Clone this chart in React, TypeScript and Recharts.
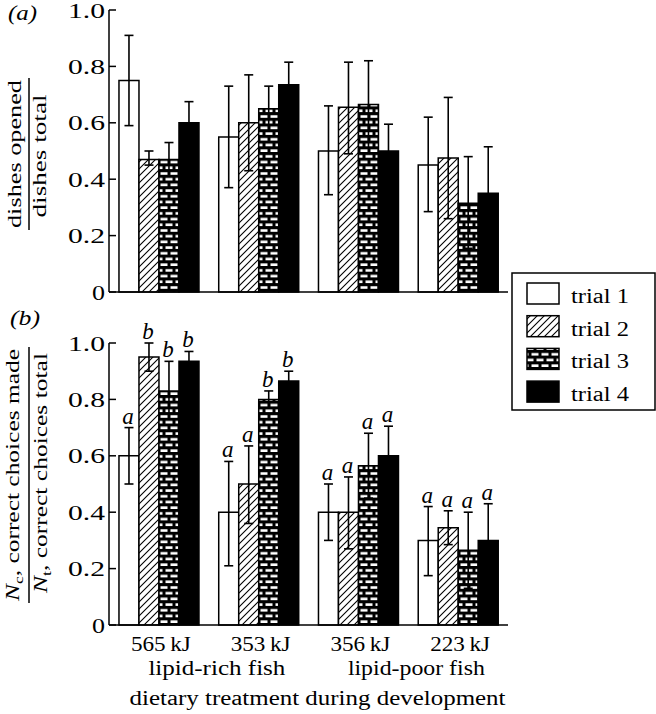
import React from 'react';
import { BarChart, Bar, XAxis, YAxis, ErrorBar, LabelList } from 'recharts';

const SERIF = '"Liberation Serif", "Times New Roman", Times, serif';

const diets = ['565\u2009kJ', '353\u2009kJ', '356\u2009kJ', '223\u2009kJ'];
const fishGroups = ['lipid-rich fish', 'lipid-poor fish'];
const trialNames = ['trial 1', 'trial 2', 'trial 3', 'trial 4'];
const yTicks = [0, 0.2, 0.4, 0.6, 0.8, 1.0];
const yTickLabels = ['0', '0.2', '0.4', '0.6', '0.8', '1.0'];

// (a) dishes opened / dishes total
const openedTrial1 = [0.75, 0.55, 0.5, 0.45];
const openedTrial2 = [0.47, 0.6, 0.655, 0.475];
const openedTrial3 = [0.47, 0.65, 0.665, 0.315];
const openedTrial4 = [0.6, 0.735, 0.5, 0.35];
const openedLow1 = [0.59, 0.37, 0.345, 0.285];
const openedLow2 = [0.45, 0.43, 0.49, 0.26];
const openedLow3 = [0.41, 0.57, 0.51, 0.155];
const openedLow4 = [0.525, 0.655, 0.405, 0.185];
const openedHigh1 = [0.91, 0.73, 0.66, 0.62];
const openedHigh2 = [0.5, 0.77, 0.815, 0.69];
const openedHigh3 = [0.53, 0.73, 0.82, 0.48];
const openedHigh4 = [0.675, 0.815, 0.595, 0.515];

// (b) correct choices made / correct choices total
const choiceTrial1 = [0.6, 0.4, 0.4, 0.3];
const choiceTrial2 = [0.95, 0.5, 0.4, 0.345];
const choiceTrial3 = [0.83, 0.8, 0.565, 0.265];
const choiceTrial4 = [0.935, 0.865, 0.6, 0.3];
const choiceLow1 = [0.5, 0.21, 0.3, 0.175];
const choiceLow2 = [0.9, 0.36, 0.27, 0.285];
const choiceLow3 = [0.73, 0.77, 0.45, 0.13];
const choiceLow4 = [0.9, 0.83, 0.49, 0.17];
const choiceHigh1 = [0.7, 0.58, 0.5, 0.42];
const choiceHigh2 = [1.0, 0.635, 0.525, 0.405];
const choiceHigh3 = [0.935, 0.83, 0.68, 0.4];
const choiceHigh4 = [0.97, 0.9, 0.705, 0.43];
const letters1 = ['a', 'a', 'a', 'a'];
const letters2 = ['b', 'a', 'a', 'a'];
const letters3 = ['b', 'b', 'a', 'a'];
const letters4 = ['b', 'b', 'a', 'a'];

const openedMeans = [openedTrial1, openedTrial2, openedTrial3, openedTrial4];
const openedLows = [openedLow1, openedLow2, openedLow3, openedLow4];
const openedHighs = [openedHigh1, openedHigh2, openedHigh3, openedHigh4];
const choiceMeans = [choiceTrial1, choiceTrial2, choiceTrial3, choiceTrial4];
const choiceLows = [choiceLow1, choiceLow2, choiceLow3, choiceLow4];
const choiceHighs = [choiceHigh1, choiceHigh2, choiceHigh3, choiceHigh4];
const choiceLetters = [letters1, letters2, letters3, letters4];

const fills = ['#fff', 'url(#hatch)', 'url(#brick)', '#000'];

const buildRows = (means: number[][], lows: number[][], highs: number[][], lets?: string[][]) =>
  diets.map((diet, i) => {
    const row: any = { diet };
    means.forEach((m, t) => {
      row[`t${t}`] = m[i];
      row[`e${t}`] = [m[i] - lows[t][i], highs[t][i] - m[i]];
      if (lets) row[`l${t}`] = lets[t][i];
    });
    return row;
  });

const openedData = buildRows(openedMeans, openedLows, openedHighs);
const choiceData = buildRows(choiceMeans, choiceLows, choiceHighs, choiceLetters);

// text squeezed/stretched to the width it has in the printed figure
const Txt = ({ x, y, w, size = 20, anchor = 'start', italic = false, children }: any) => (
  <text
    x={x}
    y={y}
    textAnchor={anchor}
    textLength={w}
    lengthAdjust="spacingAndGlyphs"
    fontFamily={SERIF}
    fontSize={size}
    fontStyle={italic ? 'italic' : 'normal'}
    fill="#000"
  >
    {children}
  </text>
);

const YTick = (props: any) => {
  const { x, y, index } = props;
  const label = yTickLabels[index];
  return (
    <g>
      <line x1={x + 4} x2={x + 11} y1={y} y2={y} stroke="#000" strokeWidth={1.5} />
      <Txt x={x} y={y + 7.5} w={label.length === 1 ? 13 : 37} size={21} anchor="end">
        {label}
      </Txt>
    </g>
  );
};

const DietTick = (props: any) => {
  const { x, y, payload, index } = props;
  return (
    <g>
      <Txt x={x + 2} y={y + 26} w={60} size={20} anchor="middle">
        {payload.value}
      </Txt>
      {index % 2 === 0 && (
        <Txt x={x + 58} y={y + 50} w={137} size={20} anchor="middle">
          {fishGroups[index / 2]}
        </Txt>
      )}
    </g>
  );
};

const LabelA = (props: any) => {
  const vb = props.viewBox;
  const cy = vb.y + vb.height / 2 + 3;
  return (
    <g fontFamily={SERIF} fontSize={19} fill="#000">
      <Txt x={8} y={vb.y + 10} w={29} size={20} italic>
        (a)
      </Txt>
      <g transform={`translate(29, ${cy}) rotate(-90)`}>
        <text x={0} y={-8} textAnchor="middle" textLength={148} lengthAdjust="spacingAndGlyphs">
          dishes opened
        </text>
        <line x1={-76} x2={76} y1={0} y2={0} stroke="#000" strokeWidth={1.5} />
        <text x={-2} y={17} textAnchor="middle" textLength={123} lengthAdjust="spacingAndGlyphs">
          dishes total
        </text>
      </g>
    </g>
  );
};

const LabelB = (props: any) => {
  const vb = props.viewBox;
  const cy = vb.y + vb.height / 2 - 9;
  return (
    <g fontFamily={SERIF} fontSize={19} fill="#000">
      <Txt x={10} y={vb.y - 18} w={30} size={20} italic>
        (b)
      </Txt>
      <g transform={`translate(29, ${cy}) rotate(-90)`}>
        <text x={0} y={-10} textAnchor="middle" textLength={252} lengthAdjust="spacingAndGlyphs">
          <tspan fontStyle="italic">N</tspan>
          <tspan fontSize={13} dy={4}>c</tspan>
          <tspan dy={-4}>, correct choices made</tspan>
        </text>
        <line x1={-128} x2={128} y1={0} y2={0} stroke="#000" strokeWidth={1.5} />
        <text x={2} y={18} textAnchor="middle" textLength={240} lengthAdjust="spacingAndGlyphs">
          <tspan fontStyle="italic">N</tspan>
          <tspan fontSize={13} dy={4}>t</tspan>
          <tspan dy={-4}>, correct choices total</tspan>
        </text>
      </g>
    </g>
  );
};

const XTitle = (props: any) => {
  const vb = props.viewBox;
  return (
    <Txt x={vb.x + vb.width / 2 + 9} y={vb.y + 80} w={376} size={20} anchor="middle">
      dietary treatment during development
    </Txt>
  );
};

// letter sits just above the top of the error bar
const makeLetter = (t: number) => (props: any) => {
  const vb = props.viewBox || props;
  const i = props.index;
  if (vb == null || i == null) return null;
  const mean = choiceMeans[t][i];
  const bottom = vb.y + vb.height;
  const top = bottom - (vb.height * choiceHighs[t][i]) / mean;
  return (
    <text
      x={vb.x + vb.width / 2 - 1}
      y={top - 4}
      textAnchor="middle"
      fontFamily={SERIF}
      fontStyle="italic"
      fontSize={23}
      fill="#000"
    >
      {props.value}
    </text>
  );
};

const Legend = () => (
  <svg width={146} height={140} style={{ position: 'absolute', left: 511, top: 272 }}>
    <rect x={1} y={1} width={143} height={137} fill="#fff" stroke="#000" strokeWidth={1.5} />
    {trialNames.map((name, t) => (
      <g key={name}>
        <rect x={16} y={11 + t * 32.7} width={32} height={21} fill={fills[t]} stroke="#000" strokeWidth={1.5} />
        <Txt x={60} y={31 + t * 32.7} w={58} size={20}>
          {name}
        </Txt>
      </g>
    ))}
  </svg>
);

const Patterns = () => (
  <svg width={0} height={0} style={{ position: 'absolute' }}>
    <defs>
      <pattern id="hatch" patternUnits="userSpaceOnUse" width={7} height={7}>
        <rect width={7} height={7} fill="#fff" />
        <path d="M0,7 L7,0 M-1,1 L1,-1 M6,8 L8,6" stroke="#000" strokeWidth={1.1} />
      </pattern>
      <pattern id="brick" patternUnits="userSpaceOnUse" width={10} height={11.4}>
        <rect width={10} height={11.4} fill="#000" />
        <rect x={0.5} y={1.2} width={7} height={2.6} fill="#fff" />
        <rect x={5.5} y={6.9} width={7} height={2.6} fill="#fff" />
        <rect x={-4.5} y={6.9} width={7} height={2.6} fill="#fff" />
      </pattern>
    </defs>
  </svg>
);

const bars = (withLetters: boolean) =>
  [0, 1, 2, 3].map((t) => (
    <Bar
      key={t}
      dataKey={`t${t}`}
      fill={fills[t]}
      stroke="#000"
      strokeWidth={1.5}
      isAnimationActive={false}
    >
      <ErrorBar dataKey={`e${t}`} width={4.5} stroke="#000" strokeWidth={1.6} direction="y" isAnimationActive={false} />
      {withLetters && <LabelList dataKey={`l${t}`} content={makeLetter(t)} />}
    </Bar>
  ));

export default function App() {
  return (
    <div style={{ position: 'absolute', left: 0, top: 0, width: 656, height: 714, background: '#fff' }}>
      <Patterns />
      <div style={{ position: 'absolute', left: 0, top: 0 }}>
        <BarChart
          width={656}
          height={310}
          data={openedData}
          margin={{ top: 10, right: 148, bottom: 0, left: 0 }}
          barCategoryGap="10%"
          barGap={0}
        >
          <XAxis dataKey="diet" height={18} tick={false} tickLine={false} axisLine={{ stroke: '#000', strokeWidth: 1.5 }} />
          <YAxis
            type="number"
            domain={[0, 1]}
            ticks={yTicks}
            interval={0}
            width={109}
            tickSize={0}
            tickMargin={4}
            tickLine={false}
            tick={<YTick />}
            axisLine={{ stroke: '#000', strokeWidth: 1.5 }}
            label={LabelA}
          />
          {bars(false)}
        </BarChart>
      </div>
      <div style={{ position: 'absolute', left: 0, top: 300 }}>
        <BarChart
          width={656}
          height={414}
          data={choiceData}
          margin={{ top: 43, right: 148, bottom: 0, left: 0 }}
          barCategoryGap="10%"
          barGap={0}
        >
          <XAxis
            dataKey="diet"
            height={89}
            interval={0}
            tickSize={0}
            tickMargin={0}
            tickLine={false}
            tick={<DietTick />}
            axisLine={{ stroke: '#000', strokeWidth: 1.5 }}
            label={XTitle}
          />
          <YAxis
            type="number"
            domain={[0, 1]}
            ticks={yTicks}
            interval={0}
            width={109}
            tickSize={0}
            tickMargin={4}
            tickLine={false}
            tick={<YTick />}
            axisLine={{ stroke: '#000', strokeWidth: 1.5 }}
            label={LabelB}
          />
          {bars(true)}
        </BarChart>
      </div>
      <Legend />
    </div>
  );
}
